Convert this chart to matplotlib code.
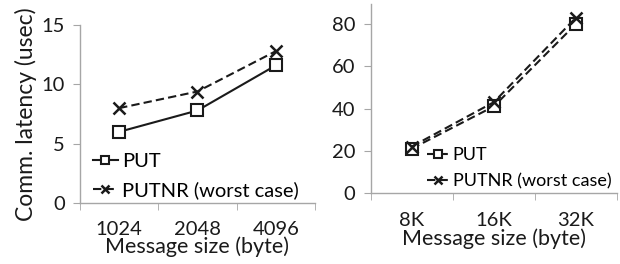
"""Communication latency vs message size, PUT vs PUTNR."""

import matplotlib
matplotlib.use("Agg")
import matplotlib.pyplot as plt

plt.rcParams["font.family"] = ["Lato", "DejaVu Sans"]

small_sizes = ["1024", "2048", "4096"]
small_put = [6.0, 7.8, 11.6]
small_putnr = [8.0, 9.4, 12.8]

large_sizes = ["8K", "16K", "32K"]
large_put = [21, 41, 80]
large_putnr = [22, 43, 83]

GRAY = "#a6a6a6"
INK = "#1a1a1a"
DASH = (0, (4, 2))

fig = plt.figure(figsize=(6.2, 2.64), dpi=100)
ax1 = fig.add_axes([0.129, 0.231, 0.379, 0.674])
ax2 = fig.add_axes([0.598, 0.269, 0.397, 0.716])


def style(ax, cats, ymax, yticks, xpad):
    n = len(cats)
    ax.set_xlim(-0.5, n - 0.5)
    ax.set_ylim(0, ymax)
    ax.set_xticks(range(n))
    ax.set_xticklabels(cats)
    ax.set_xticks([i - 0.5 for i in range(n + 1)], minor=True)
    ax.set_yticks(yticks)
    for side in ("top", "right"):
        ax.spines[side].set_visible(False)
    for side in ("left", "bottom"):
        ax.spines[side].set_color(GRAY)
        ax.spines[side].set_linewidth(1.0)
    ax.tick_params(axis="x", which="major", length=0, pad=xpad, labelsize=14.5, colors=INK)
    ax.tick_params(axis="x", which="minor", length=5, color=GRAY)
    ax.tick_params(axis="y", length=5, color=GRAY, labelsize=14.5, labelcolor=INK, pad=6)
    ax.set_xlabel("Message size (byte)", fontsize=15.5, color=INK, labelpad=-1)


def legend(ax, x, size):
    ax.legend(loc="lower left", bbox_to_anchor=(x, 0.02), frameon=False,
              fontsize=size, handlelength=1.25, handletextpad=0.2,
              labelspacing=0.55, borderpad=0, borderaxespad=0, markerscale=0.75)


x1 = range(len(small_sizes))
ax1.plot(x1, small_put, color=INK, lw=1.5, ls="-", marker="s", ms=8,
         mfc="white", mec=INK, mew=1.5, label="PUT")
ax1.plot(x1, small_putnr, color=INK, lw=1.5, ls=DASH, marker="x", ms=8,
         mew=1.8, label="PUTNR (worst case)")
style(ax1, small_sizes, 15, [0, 5, 10, 15], 13)
ax1.set_ylabel("Comm. latency (usec)", fontsize=16.5, color=INK, labelpad=3)
legend(ax1, 0.055, 14.5)

x2 = range(len(large_sizes))
ax2.plot(x2, large_put, color=INK, lw=1.5, ls=DASH, marker="s", ms=8,
         mfc="white", mec=INK, mew=1.5, label="PUT")
ax2.plot(x2, large_putnr, color=INK, lw=1.5, ls=DASH, marker="x", ms=8,
         mew=1.8, label="PUTNR (worst case)")
style(ax2, large_sizes, 89.5, [0, 20, 40, 60, 80], 14)
legend(ax2, 0.227, 13)

fig.savefig("out.png", dpi=100)
